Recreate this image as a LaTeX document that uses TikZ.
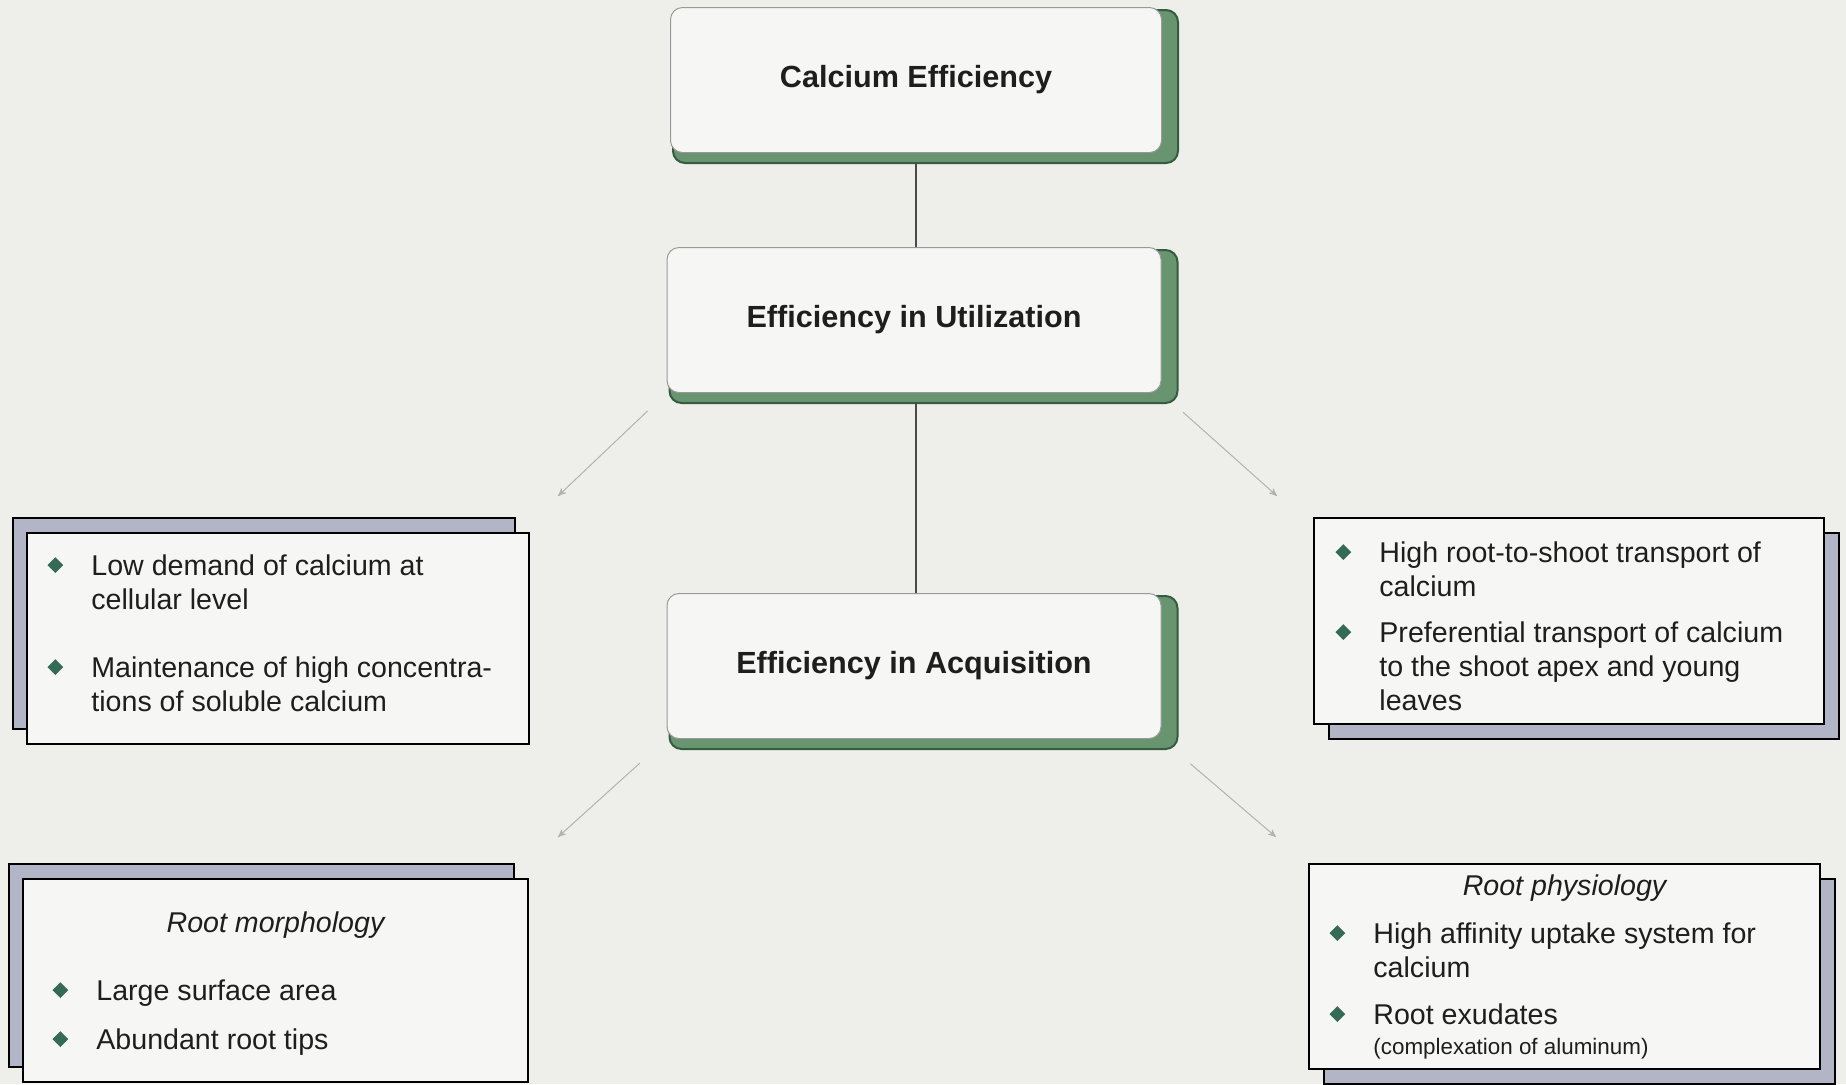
\documentclass[tikz,border=0pt]{standalone}
\usepackage{fontspec}
\setmainfont{Liberation Sans}
\usepackage{xcolor}
\usetikzlibrary{calc}
\usetikzlibrary{arrows,shadows,backgrounds}
\definecolor{paper}{RGB}{238,238,235}
\definecolor{boxfill}{RGB}{246,246,244}
\definecolor{leafgreen}{RGB}{104,148,112}
\definecolor{darkgreen}{RGB}{52,92,62}
\definecolor{slate}{RGB}{178,181,198}
\definecolor{bulgreen}{RGB}{52,106,86}
\definecolor{ink}{RGB}{30,30,30}
\newcommand{\bul}{\makebox[22pt][l]{\raisebox{1pt}{\textcolor{bulgreen}{\rotatebox{45}{\rule{5.6pt}{5.6pt}}}}}}
\tikzstyle{headbox}=[rectangle, rounded corners=6pt, draw=gray!80, line width=0.5pt, fill=boxfill, minimum width=247pt, minimum height=72.5pt, inner sep=0pt, text=ink, font=\fontsize{15.3}{18}\selectfont\bfseries]
\tikzstyle{greenshade}=[draw=darkgreen, fill=leafgreen, line width=1pt, rounded corners=6pt]
\tikzstyle{panel}=[rectangle, draw=black, line width=1pt, fill=boxfill, inner sep=0pt]
\tikzstyle{backl}=[drop shadow={shadow xshift=-7pt, shadow yshift=7.5pt, fill=slate, draw=black, line width=1pt, opacity=1}]
\tikzstyle{backr}=[drop shadow={shadow xshift=7.5pt, shadow yshift=-7.5pt, fill=slate, draw=black, line width=1pt, opacity=1}]
\tikzstyle{itext}=[inner sep=0pt, text=ink, font=\fontsize{14.3}{17}\selectfont]
\tikzstyle{faint}=[->, >=stealth', color=gray!60, line width=0.5pt]

\begin{document}
\begin{tikzpicture}[x=0.5pt, y=-0.5pt]
\path[use as bounding box] (0,0) rectangle (1846,1084);
\clip (0,0) rectangle (1846,1084);

% main chain
\node[headbox, minimum width=245.5pt] (ce) at (916,80) {Calcium Efficiency};
\node[headbox] (eu) at (914,320) {Efficiency in Utilization};
\node[headbox] (ea) at (914,666) {Efficiency in Acquisition};
\draw[color=ink!80, line width=0.75pt, shorten <=5pt] (ce.south) -- (ce.south |- eu.north);
\draw[color=ink!80, line width=0.75pt, shorten <=4.5pt] (ce.south |- eu.south) -- (ce.south |- ea.north);

% side panels
\node[panel, backl, minimum width=251pt, minimum height=105.5pt] (use) at (278,638.5) {};
\node[panel, backr, minimum width=255pt, minimum height=103pt] (trans) at (1569,621) {};
\node[panel, backl, minimum width=252.5pt, minimum height=101.5pt] (morph) at (275.5,980.5) {};
\node[panel, backr, minimum width=255.5pt, minimum height=102.5pt] (phys) at (1564.5,966.5) {};

\node[itext, anchor=base west] (uset) at ($(use.north west)+(21,43)$) {\begin{tabular}[t]{@{}l@{}l@{}}
\bul & Low demand of calcium at\\
 & cellular level\\[17pt]
\bul & Maintenance of high concentra-\\
 & tions of soluble calcium
\end{tabular}};
\node[itext, anchor=base west] (transt) at ($(trans.north west)+(22,45)$) {\begin{tabular}[t]{@{}l@{}l@{}}
\bul & High root-to-shoot transport of\\
 & calcium\\[6pt]
\bul & Preferential transport of calcium\\
 & to the shoot apex and young\\
 & leaves
\end{tabular}};
\node[itext, font=\fontsize{14.3}{17}\selectfont\itshape, anchor=base] (morphh) at ($(morph.north)+(0,54)$) {Root morphology};
\node[itext, anchor=base west] (morpht) at ($(morph.north west)+(30,122)$) {\begin{tabular}[t]{@{}l@{}l@{}}
\bul & Large surface area\\[7.5pt]
\bul & Abundant root tips
\end{tabular}};
\node[itext, font=\fontsize{14.3}{17}\selectfont\itshape, anchor=base] (physh) at ($(phys.north)+(0,32)$) {Root physiology};
\node[itext, anchor=base west] (physt) at ($(phys.north west)+(21,80)$) {\begin{tabular}[t]{@{}l@{}l@{}}
\bul & High affinity uptake system for\\
 & calcium\\[6.5pt]
\bul & Root exudates\\[-2pt]
 & {\fontsize{11.2}{13}\selectfont (complexation of aluminum)}
\end{tabular}};

% faint arrows
\coordinate (usein) at ($(use.north east)+(28,-36)$);
\coordinate (transin) at ($(trans.north west)+(-36,-21)$);
\coordinate (morphin) at ($(morph.north east)+(29,-41)$);
\coordinate (physin) at ($(phys.north west)+(-32,-26)$);
\draw[faint, shorten <=13pt] (eu.south west) -- (usein);
\draw[faint, shorten <=14.5pt] (eu.south east) -- (transin);
\draw[faint, shorten <=18pt] (ea.south west) -- (morphin);
\draw[faint, shorten <=19pt] (ea.south east) -- (physin);

% paper and green shades behind the main chain
\begin{pgfonlayer}{background}
\fill[paper] (0,0) rectangle (1846,1084);
\foreach \n in {ce,eu,ea}
  \draw[greenshade] ($(\n.north west)+(3,3)$) rectangle ($(\n.south east)+(16,10)$);
\end{pgfonlayer}

\end{tikzpicture}
\end{document}
